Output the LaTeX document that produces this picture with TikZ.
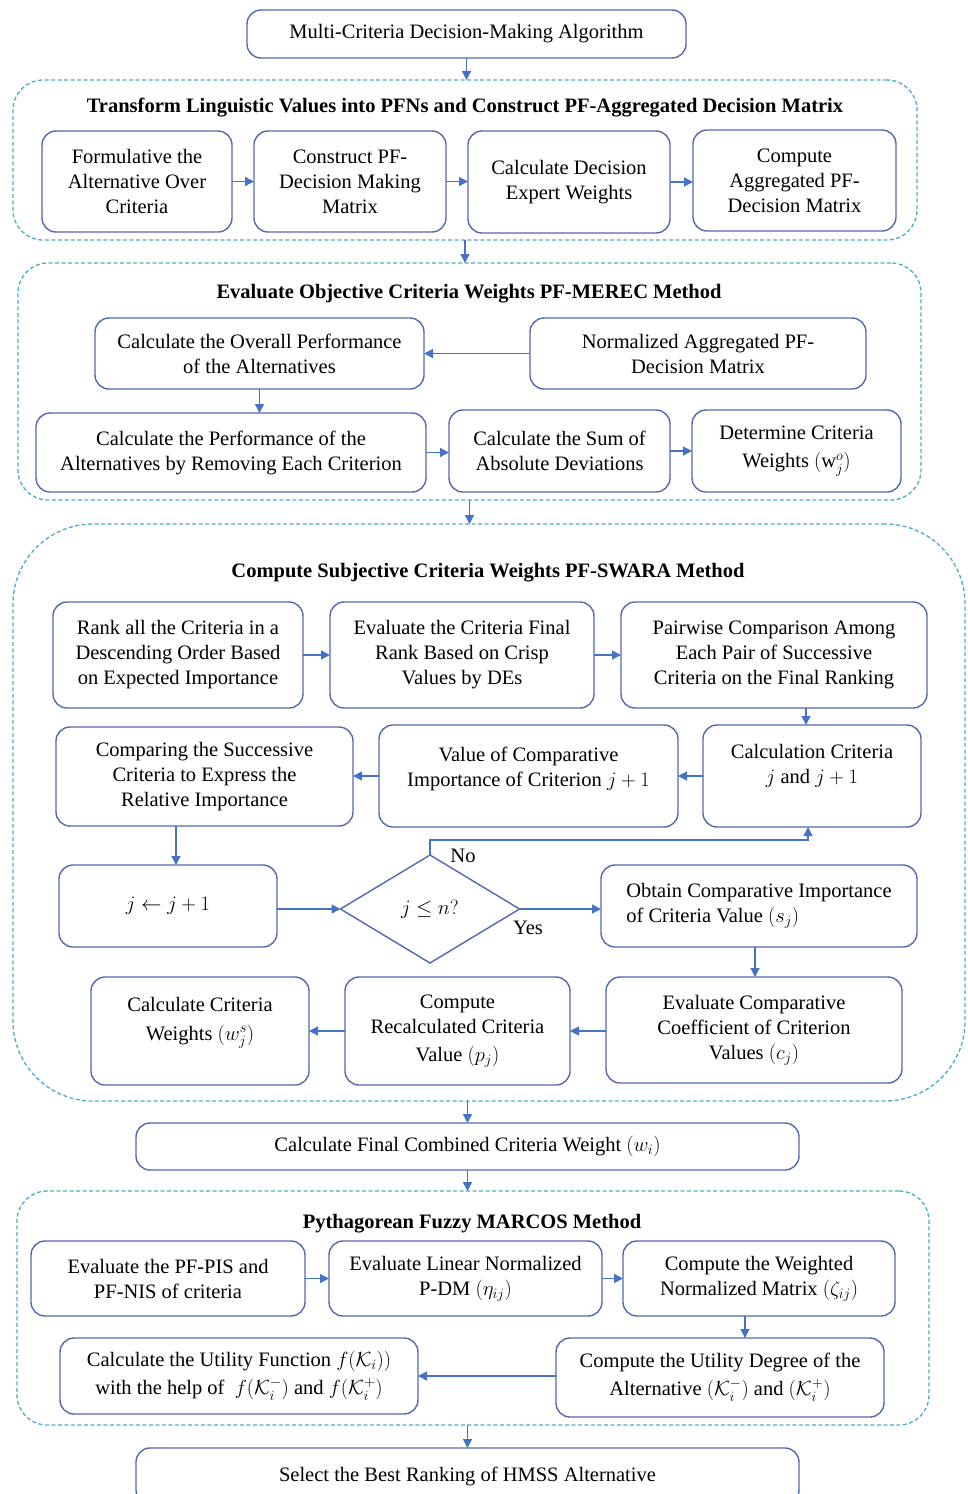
\RequirePackage{fix-cm}
\documentclass[tikz,border=0pt]{standalone}
\usepackage{amsmath}
\usepackage{fontspec}
\setmainfont{Liberation Serif}
\usetikzlibrary{arrows.meta,shapes.geometric,calc}
\definecolor{boxc}{RGB}{84,104,176}
\definecolor{arrc}{RGB}{68,114,196}
\definecolor{grpc}{RGB}{75,172,198}
\begin{document}
\begin{tikzpicture}[x=1pt,y=-1pt,
  font=\fontsize{20.5}{25}\selectfont,
  box/.style={draw=boxc,line width=1.4pt,rounded corners=14pt,align=center,inner sep=0pt,outer sep=0pt},
  grp/.style={draw=grpc,line width=1.3pt,dash pattern=on 4pt off 2.5pt,rounded corners=30pt,inner sep=0pt,outer sep=0pt},
  ttl/.style={font=\fontsize{20.5}{25}\selectfont\bfseries,inner sep=0pt},
  lbl/.style={inner sep=0pt},
  arr/.style={draw=arrc,line width=1.4pt,-{Triangle[length=9pt,width=9pt]}},
  dia/.style={draw=boxc,line width=1.4pt,diamond,inner sep=0pt,outer sep=0pt}]
\useasboundingbox (0,0) rectangle (967,1494);
\clip (0,0) rectangle (967,1494);

% groups
\node[grp,minimum width=904,minimum height=160] (g1) at (465,160) {};
\node[grp,minimum width=903,minimum height=237] (g2) at (469.5,381.5) {};
\node[grp,minimum width=952,minimum height=577,rounded corners=80pt] (g3) at (489,812.5) {};
\node[grp,minimum width=912,minimum height=234] (g4) at (473,1308) {};

% titles
\node[ttl] (t1) at (465,108) {Transform Linguistic Values into PFNs and Construct PF-Aggregated Decision Matrix};
\node[ttl] (t2) at (469,294) {Evaluate Objective Criteria Weights PF-MEREC Method};
\node[ttl] (t3) at (488,573) {Compute Subjective Criteria Weights PF-SWARA Method};
\node[ttl] (t4) at (472,1224) {Pythagorean Fuzzy MARCOS Method};

% top
\node[box,minimum width=439,minimum height=48] (m) at (466.5,34) {Multi-Criteria Decision-Making Algorithm};

% group 1
\node[box,minimum width=190,minimum height=101] (a1) at (137,181.5) {Formulative the\\Alternative Over\\Criteria};
\node[box,minimum width=192,minimum height=101] (a2) at (350,181.5) {Construct PF-\\Decision Making\\Matrix};
\node[box,minimum width=202,minimum height=102] (a3) at (569,182) {Calculate Decision\\Expert Weights};
\node[box,minimum width=203,minimum height=101] (a4) at (794.5,180.5) {Compute\\Aggregated PF-\\Decision Matrix};

% group 2
\node[box,minimum width=329,minimum height=71] (b1) at (259.5,353.5) {Calculate the Overall Performance\\of the Alternatives};
\node[box,minimum width=336,minimum height=71] (b2) at (698,353.5) {Normalized Aggregated PF-\\Decision Matrix};
\node[box,minimum width=390,minimum height=79] (b3) at (231,452.5) {Calculate the Performance of the\\Alternatives by Removing Each Criterion};
\node[box,minimum width=221,minimum height=82] (b4) at (559.5,451) {Calculate the Sum of\\Absolute Deviations};
\node[box,minimum width=209,minimum height=82] (b5) at (796.5,451) {Determine Criteria\\[3pt]Weights $(\mathrm{w}_j^{o})$};

% group 3
\node[box,minimum width=250,minimum height=106] (c1) at (178,655) {Rank all the Criteria in a\\Descending Order Based\\on Expected Importance};
\node[box,minimum width=264,minimum height=106] (c2) at (462,655) {Evaluate the Criteria Final\\Rank Based on Crisp\\Values by DEs};
\node[box,minimum width=306,minimum height=106] (c3) at (774,655) {Pairwise Comparison Among\\Each Pair of Successive\\Criteria on the Final Ranking};
\node[box,minimum width=218,minimum height=102] (c4) at (812,776) {Calculation Criteria\\$j$ and $j+1$\\\mbox{}};
\node[box,minimum width=299,minimum height=102] (c5) at (528.5,776) {Value of Comparative\\Importance of Criterion $j+1$\\[-6pt]\mbox{}};
\node[box,minimum width=297,minimum height=99] (c6) at (204.5,776.5) {Comparing the Successive\\Criteria to Express the\\Relative Importance};
\node[box,minimum width=218,minimum height=82] (c7) at (168,906) {$j \leftarrow j+1$};
\node[dia,minimum width=179,minimum height=108,aspect=1.66] (d) at (430,909) {$j \le n?$};
\node[box,minimum width=316,minimum height=82,align=left] (c8) at (759,906) {Obtain Comparative Importance\\of Criteria Value $(s_j)$};
\node[box,minimum width=296,minimum height=106] (c9) at (754,1030) {Evaluate Comparative\\Coefficient of Criterion\\Values $(c_j)$};
\node[box,minimum width=225,minimum height=108] (c10) at (457.5,1031) {Compute\\Recalculated Criteria\\[3pt]Value $(p_j)$};
\node[box,minimum width=218,minimum height=108] (c11) at (200,1031) {Calculate Criteria\\[4pt]Weights $(w_j^{s})$\\\mbox{}};
\node[lbl] (no) at (463,856) {No};
\node[lbl] (yes) at (528,928) {Yes};

% final weight
\node[box,minimum width=663,minimum height=47] (f) at (467.5,1146.5) {Calculate Final Combined Criteria Weight $(w_i)$};

% group 4
\node[box,minimum width=274,minimum height=75] (e1) at (168,1278.5) {Evaluate the PF-PIS and\\PF-NIS of criteria};
\node[box,minimum width=273,minimum height=75] (e2) at (465.5,1278.5) {Evaluate Linear Normalized\\P-DM $(\eta_{ij})$};
\node[box,minimum width=272,minimum height=75] (e3) at (759,1278.5) {Compute the Weighted\\Normalized Matrix $(\zeta_{ij})$};
\node[box,minimum width=328,minimum height=79] (e4) at (720,1377.5) {Compute the Utility Degree of the\\[3pt]Alternative $(\mathcal{K}_i^-)$ and $(\mathcal{K}_i^+)$};
\node[box,minimum width=358,minimum height=76] (e5) at (239,1376) {Calculate the Utility Function $f(\mathcal{K}_i))$\\[3pt]with the help of \ $f(\mathcal{K}_i^-)$ and $f(\mathcal{K}_i^+)$};

% last
\node[box,minimum width=663,minimum height=56] (g) at (467.5,1476) {\raisebox{2pt}{Select the Best Ranking of HMSS Alternative}};

% connectors
\draw[arr] (m.south) -- (m.south |- g1.north);
\draw[arr] (a1.east) -- (a2.west);
\draw[arr] (a2.east) -- (a2.east -| a3.west);
\draw[arr] (a3.east) -- (a3.east -| a4.west);
\draw[arr] (g1.south) -- (g1.south |- g2.north);
\draw[arr] (b2.west) -- (b1.east);
\draw[arr] (b1.south) -- (b1.south |- b3.north);
\draw[arr] (b3.east) -- (b3.east -| b4.west);
\draw[arr] (b4.east) -- (b5.west);
\draw[arr] (g2.south) -- (g2.south |- g3.north);
\draw[arr] (c1.east) -- (c2.west);
\draw[arr] (c2.east) -- (c3.west);
\draw[arr] ([xshift=-6pt]c4.north |- c3.south) -- ([xshift=-6pt]c4.north);
\draw[arr] (c4.west) -- (c5.east);
\draw[arr] (c5.west) -- (c5.west -| c6.east);
\draw[arr] ([xshift=8pt]c7.north |- c6.south) -- ([xshift=8pt]c7.north);
\draw[arr] (c7.east |- d.west) -- (d.west);
\draw[arr] (d.north) -- ++(0,-15) -| ([xshift=-4pt]c4.south);
\draw[arr] (d.east) -- (d.east -| c8.west);
\draw[arr] ([xshift=-4pt]c8.south) -- ([xshift=-4pt]c8.south |- c9.north);
\draw[arr] (c9.west |- c10.east) -- (c10.east);
\draw[arr] (c10.west) -- (c11.east);
\draw[arr] (f.north |- g3.south) -- (f.north);
\draw[arr] (f.south) -- (f.south |- g4.north);
\draw[arr] (e1.east) -- (e2.west);
\draw[arr] (e2.east) -- (e3.west);
\draw[arr] ([xshift=-14pt]e3.south) -- ([xshift=-14pt]e3.south |- e4.north);
\draw[arr] (e4.west |- e5.east) -- (e5.east);
\draw[arr] (g.north |- g4.south) -- (g.north);
\end{tikzpicture}
\end{document}
